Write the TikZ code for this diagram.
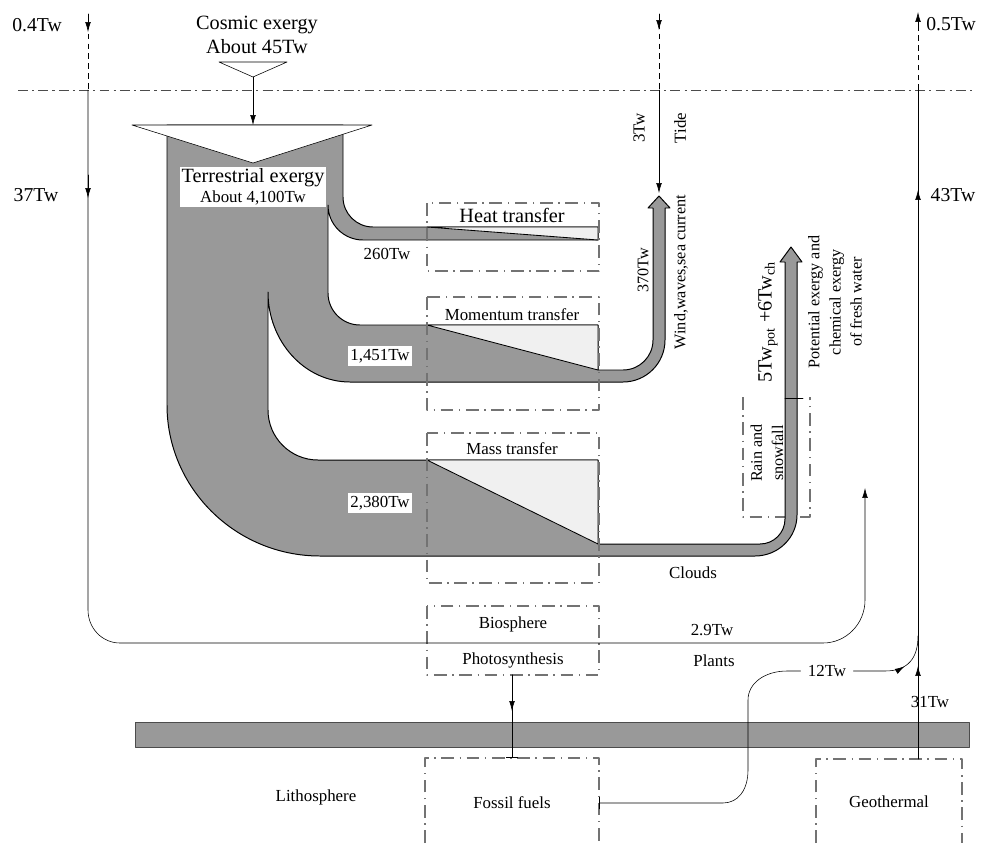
\documentclass[tikz,border=0pt]{standalone}
\usepackage{fontspec}
\setmainfont{Liberation Serif}
\usetikzlibrary{arrows.meta,decorations.markings}
\tikzset{
  flow/.style={fill=black!40, draw=black, line width=0.7pt},
  lightfill/.style={fill=black!6, draw=black, line width=0.6pt},
  boxline/.style={draw=black!55, line width=0.9pt, line cap=butt, dash pattern=on 9pt off 4pt on 1pt off 4pt},
  skyline/.style={draw=black!70, line width=0.6pt, line cap=butt, dash pattern=on 7pt off 3pt on 1.5pt off 3pt},
  dashline/.style={line width=0.6pt, line cap=butt, dash pattern=on 4pt off 3pt},
  tagbox/.style={fill=white, inner sep=2pt},
  midarrow/.style={postaction={decorate, decoration={markings, mark=at position #1 with {\arrow{>}}}}},
  bigtext/.style={font=\fontsize{14.4}{17.5}\selectfont},
  sidetext/.style={font=\fontsize{14}{16}\selectfont},
  smalltext/.style={font=\fontsize{11.5}{15}\selectfont}
}
\begin{document}
\begin{tikzpicture}[x=0.025cm, y=-0.025cm, font=\fontsize{12}{14}\selectfont, line cap=round, line join=round, >={Latex[length=7pt,width=4pt]}]
\useasboundingbox (0,0) rectangle (986,843);

% atmosphere limit
\draw[skyline] (18,90) -- (975,90);

% rain box (behind the flow)
\draw[boxline] (743,397) -- (743,517) -- (810,517) -- (810,397);

% terrestrial exergy flow
\draw[flow] (167,125) -- (343,125) -- (343,197)
  .. controls (343,213.6) and (356.4,227) .. (373,227) -- (598,227) -- (598,240)
  -- (363,240) .. controls (343.7,240) and (328,224.3) .. (328,205)
  -- (328,293) .. controls (328,310.7) and (342.3,325) .. (360,325) -- (598,325) -- (598,370)
  -- (623,370) .. controls (639.6,370) and (653,356.6) .. (653,340)
  -- (653,208) -- (648,208) -- (659,196) -- (670,208) -- (665,208)
  -- (665,340) .. controls (665,363.2) and (646.2,382) .. (623,382)
  -- (350,382) .. controls (304.7,382) and (268,341.7) .. (268,292)
  -- (268,410) .. controls (268,437.6) and (290.4,460) .. (318,460) -- (598,460) -- (598,544)
  -- (760,544) .. controls (773.8,544) and (785,532.8) .. (785,519)
  -- (785,262) -- (780,262) -- (791,247) -- (802,262) -- (797,262)
  -- (797,515) .. controls (797,537.6) and (778.2,556) .. (755,556)
  -- (320,556) .. controls (235.5,556) and (167,488) .. (167,405) -- cycle;
\draw[lightfill] (427,227) -- (598,227) -- (598,240) -- cycle;
\draw[lightfill] (427,325) -- (598,325) -- (598,370) -- cycle;
\draw[lightfill] (427,460) -- (598,460) -- (598,544) -- cycle;
\draw (785,398) -- (803,398);

% cosmic input
\draw (219,62) -- (287,62) -- (253,77) coordinate (cin) -- cycle;
\draw[fill=white] (132,125) -- (372,125) -- (253,163) -- cycle;
\coordinate (tin) at (253,125);
\draw[->] (cin) -- (tin);
\path (257,35) node[bigtext, align=center] (cosmic) {Cosmic exergy\\About 45Tw};
\path (253,187) node[tagbox, inner sep=1pt, align=center] (terr) {{\fontsize{14.4}{17}\selectfont Terrestrial exergy}\\About 4,100Tw};

% transfer boxes
\draw[boxline] (427,203) rectangle (599,271);
\draw[boxline] (427,297) rectangle (599,410);
\draw[boxline] (427,433) rectangle (599,583);
\draw[boxline] (427,606) rectangle (599,675);
\draw[boxline] (425,843) -- (425,758) -- (599,758) -- (599,843);
\draw[boxline] (816,843) -- (816,759) -- (962,759) -- (962,843);

% lithosphere
\draw[fill=black!40, draw=black!70] (135,722) rectangle (969,747);

% left loop
\coordinate (ltop) at (88,14);
\coordinate (lsky) at (88,90);
\coordinate (lend) at (865,488);
\draw[dashline] (ltop) -- (lsky);
\draw[->] (ltop) -- (88,32);
\draw[->] (lsky) -- (88,610) .. controls (88,628) and (102,643) .. (120,643) -- (823,643)
  .. controls (846,643) and (865,624) .. (865,600) -- (lend);
\draw[->] (88,175) -- (88,198);

% tide
\coordinate (ttop) at (659,14);
\coordinate (tsky) at (659,90);
\coordinate (tend) at (659,193);
\draw[dashline] (ttop) -- (tsky);
\draw[->] (ttop) -- (659,30);
\draw[->] (tsky) -- (tend);

% right line
\coordinate (rtop) at (918,12);
\coordinate (rsky) at (918,90);
\coordinate (rbot) at (918,759);
\draw[dashline] (rsky) -- (918,26);
\draw[->] (918,30) -- (rtop);
\draw (rbot) -- (rsky);
\draw[->] (918,210) -- (918,190);
\draw[->] (918,690) -- (918,666);

% photosynthesis
\coordinate (pstart) at (512,675);
\coordinate (pend) at (512,758);
\draw[-{Bar[width=9pt]}] (pstart) -- (pend);
\draw[->] (pstart) -- (512,711);

% labels
\path (37,25) node[sidetext] (in04) {0.4Tw} (36,195) node[sidetext] (in37) {37Tw};
\path (951,24) node[sidetext] (out05) {0.5Tw} (953,195) node[sidetext] (out43) {43Tw};
\path (512,215) node[bigtext] (heat) {Heat transfer};
\path (512,315) node (mom) {Momentum transfer};
\path (512,449) node (mass) {Mass transfer};
\path (387,254) node (heatval) {260Tw};
\path (380,356) node[tagbox] (momval) {1,451Tw};
\path (380,503) node[tagbox] (massval) {2,380Tw};
\path (693,573) node (clouds) {Clouds};
\path (513,624) node (bio) {Biosphere};
\path (513,660) node (photo) {Photosynthesis};
\path (712,630) node (plantval) {2.9Tw};
\path (714,661) node (plants) {Plants};
\path (827,671) node[inner sep=5pt] (tw12) {12Tw};
\path (930,702) node (tw31) {31Tw};
\path (316,797) node (litho) {Lithosphere};
\path (512,803) node (fossil) {Fossil fuels};
\path (889,802) node (geo) {Geothermal};
\path (639,128) node[rotate=90] (tw3) {3Tw};
\path (680,128) node[rotate=90] (tide) {Tide};
\path (643,270) node[rotate=90, smalltext] (tw370) {370Tw};
\path (681,272) node[rotate=90, smalltext] (wind) {Wind,waves,sea current};
\path (768,322) node[rotate=90, bigtext] (potval) {5Tw\textsubscript{pot} +6Tw\textsubscript{ch}};
\path (835,302) node[rotate=90, smalltext, align=center] (fresh) {Potential exergy and\\chemical exergy\\of fresh water};
\path (767,453) node[rotate=90, smalltext, align=center] (rain) {Rain and\\snowfall};

% fossil fuels to atmosphere
\draw[{Bar[width=9pt]}-] (599,803) -- (723,803) .. controls (738,803) and (748,790) .. (748,770)
  -- (748,700) .. controls (748,683) and (765,671) .. (787,671) -- (tw12.west);
\draw[midarrow=0.6] (tw12.east) -- (885,671) .. controls (908,671) and (918,658) .. (918,636);
\end{tikzpicture}
\end{document}
